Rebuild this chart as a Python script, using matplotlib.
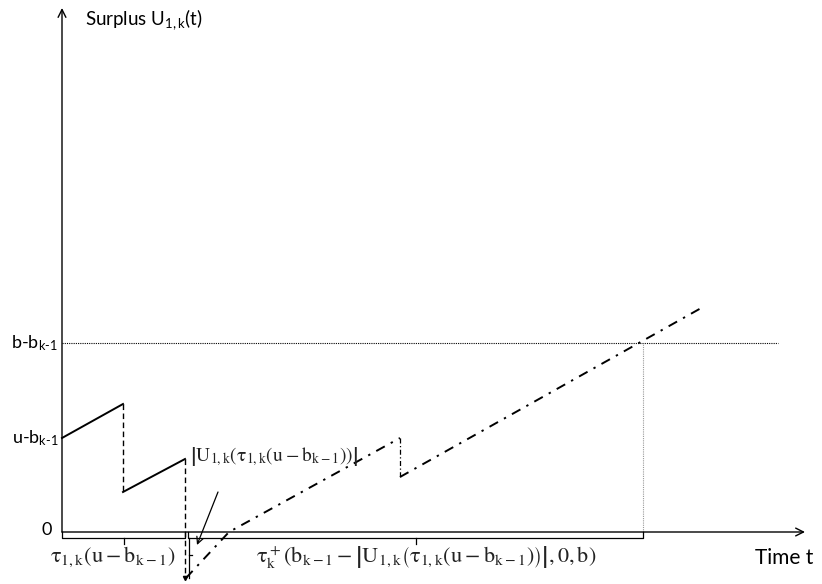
"""Surplus sample path sketch: U_{1,k}(t) with ruin and recovery."""

import matplotlib

matplotlib.use("Agg")
import matplotlib.pyplot as plt

# sketch data (time units, surplus units; origin at the axes crossing)
initial_level = 94        # u - b_{k-1}
barrier_level = 189       # b - b_{k-1}
claim_times = [61, 123]
solid_t = [0, 61, None, 61, 123]
solid_u = [94, 128, None, 40, 73]
dashed_drop_t = [[61, 61], [123, 123]]
dashed_drop_u = [[128, 40], [73, -46]]
ruin_time = 123
ruin_level = -46
recovery_t = [124, 167, 338, 338, 641]
recovery_u = [-46, 0, 94, 55, 225]
hit_time = 581
barrier_end = 716
xaxis_end = 743
yaxis_end = 524

plt.rcParams["mathtext.fontset"] = "custom"
plt.rcParams["mathtext.rm"] = "Lato"
plt.rcParams["mathtext.it"] = "Lato:italic"
plt.rcParams["font.family"] = ["Lato", "DejaVu Sans"]

tau_label = r"$\mathrm{\tau_{1,k}(u - b_{k-1})}$"
deficit = r"\mathrm{U_{1,k}}\left(\mathrm{\tau_{1,k}(u - b_{k-1})}\right)"
deficit_label = r"$\left|" + deficit + r"\right|$"
recovery_label = r"$\mathrm{\tau^+_k(b_{k-1}} - \left|" + deficit + r"\right|\mathrm{, 0, b)}$"

fig = plt.figure(figsize=(8.22, 5.84), dpi=100)
ax = fig.add_axes([0, 0, 1, 1])
ax.set_xlim(-62, 760)
ax.set_ylim(-52, 532)
ax.axis("off")

# axes with arrows
ax.annotate("", xy=(xaxis_end, 0), xytext=(0, 0),
            arrowprops=dict(arrowstyle="->", lw=1.0, color="black", shrinkA=0, shrinkB=0, mutation_scale=14))
ax.annotate("", xy=(0, yaxis_end), xytext=(0, 0),
            arrowprops=dict(arrowstyle="->", lw=1.0, color="black", shrinkA=0, shrinkB=0, mutation_scale=14))

# barrier level and hitting time
ax.plot([0, barrier_end], [barrier_level, barrier_level], color="black", lw=0.8, ls=(0, (1, 1)))
ax.plot([hit_time, hit_time], [0, barrier_level], color="#999999", lw=0.8, ls=(0, (1, 1)))

# surplus before ruin
ax.plot(solid_t, solid_u, color="black", lw=1.4)
for tt, uu in zip(dashed_drop_t, dashed_drop_u):
    ax.plot(tt, uu, color="black", lw=1.0, ls=(0, (4, 2.5)))
ax.plot([ruin_time], [ruin_level], marker="v", ms=3, color="black")

# recovery after ruin
ax.plot(recovery_t[:3], recovery_u[:3], color="black", lw=1.4, ls=(0, (5, 3.5, 1.2, 3.5)))
ax.plot(recovery_t[2:4], recovery_u[2:4], color="black", lw=0.9, ls=(0, (4, 2, 1, 2)))
ax.plot(recovery_t[3:], recovery_u[3:], color="black", lw=1.4, ls=(0, (5, 3.5, 1.2, 3.5)))


def hbracket(x0, x1, y=-6, depth=6):
    xm = 0.5 * (x0 + x1)
    ax.plot([x0, x0, x1, x1], [0, y, y, 0], color="black", lw=0.9)
    ax.plot([xm, xm], [y, y - depth], color="black", lw=0.9)


hbracket(0, claim_times[1])
hbracket(claim_times[1] + 3, hit_time)
# vertical brace for the deficit at ruin
ax.plot([claim_times[1] + 4, claim_times[1] + 4], [-6, ruin_level], color="black", lw=0.9)
ax.plot([claim_times[1] + 4, claim_times[1] + 7], [0.5 * ruin_level, 0.5 * ruin_level], color="black", lw=0.9)

ax.annotate("", xy=(135, -13), xytext=(156, 40),
            arrowprops=dict(arrowstyle="->", lw=0.9, color="black", shrinkA=0, shrinkB=0, mutation_scale=12))

# y labels
ax.text(-4, barrier_level, r"b-b$_{\mathregular{k}\text{-}\mathregular{1}}$", ha="right", va="center", fontsize=13)
ax.text(-4, initial_level, r"u-b$_{\mathregular{k}\text{-}\mathregular{1}}$", ha="right", va="center", fontsize=13)
ax.text(-10, 2, "0", ha="right", va="center", fontsize=13)
ax.text(23, 512, r"Surplus U$_{\mathregular{1,k}}$(t)", ha="left", va="center", fontsize=13.5)
ax.text(693, -26, "Time t", ha="left", va="center", fontsize=15)

# math labels
math_style = dict(ha="left", va="center", math_fontfamily="stix", color="#222222")
ax.text(-12, -25, tau_label, fontsize=16, **math_style)
ax.text(194, -26, recovery_label, fontsize=16, **math_style)
ax.text(128, 75, deficit_label, fontsize=14, **math_style)

fig.savefig("out.png", dpi=100)
